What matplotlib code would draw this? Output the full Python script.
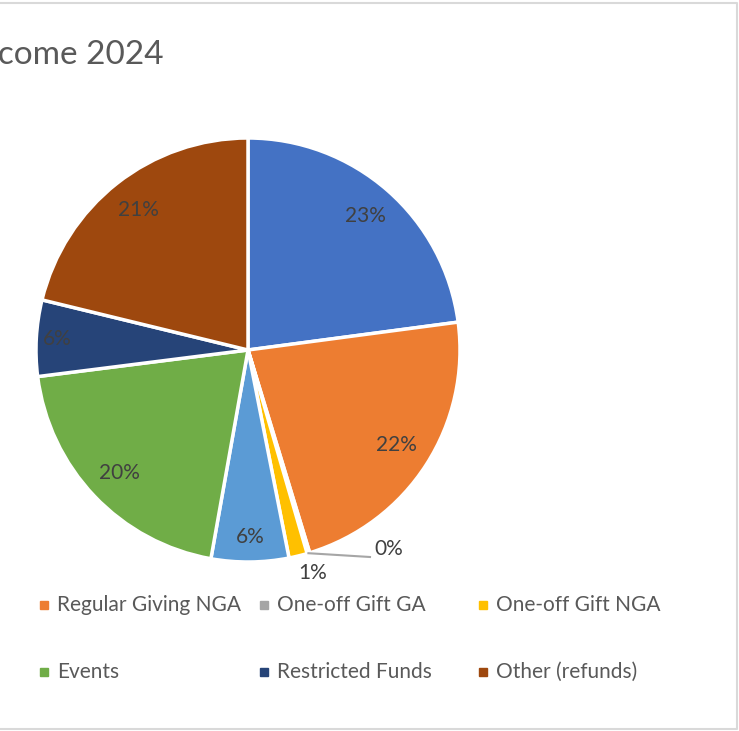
import numpy as np
import matplotlib.pyplot as plt

# income split (percent of total)
CATEGORIES = [
    "Regular Giving GA",
    "Regular Giving NGA",
    "One-off Gift GA",
    "One-off Gift NGA",
    "Gift Aid",
    "Events",
    "Restricted Funds",
    "Other (refunds)",
]
SHARES = [22.9, 22.4, 0.2, 1.4, 5.9, 20.2, 5.8, 21.2]
COLORS = ["#4472C4", "#ED7D31", "#A5A5A5", "#FFC000",
          "#5B9BD5", "#70AD47", "#264478", "#9E480E"]
TITLE = "Income 2024"

W, H = 739, 731
CX, CY, R = 248, H - 350, 212

plt.rcParams['font.family'] = ['Lato', 'DejaVu Sans']

fig = plt.figure(figsize=(W / 100, H / 100), dpi=100)
ax = fig.add_axes([0, 0, 1, 1])

wedges, _ = ax.pie(SHARES, colors=COLORS, startangle=90, counterclock=False,
                   center=(CX, CY), radius=R, normalize=True,
                   wedgeprops=dict(edgecolor='white', linewidth=2.5))
ax.set_xlim(0, W)
ax.set_ylim(0, H)
ax.axis('off')

# data labels
dist = [0.84, 0.83, None, None, 0.88, 0.84, 0.9, 0.84]
cum = np.cumsum([0] + SHARES[:-1])
for i, (s, c) in enumerate(zip(SHARES, cum)):
    mid = np.deg2rad(90 - (c + s / 2) * 3.6)
    txt = f"{round(s):.0f}%"
    if dist[i] is not None:
        ax.text(CX + dist[i] * R * np.cos(mid), CY + dist[i] * R * np.sin(mid), txt,
                ha='center', va='center', fontsize=15, color='#404040')
    elif i == 2:
        x0, y0 = CX + R * np.cos(mid), CY + R * np.sin(mid)
        ax.plot([x0, 370], [y0, H - 557], color='#A6A6A6', lw=1.5)
        ax.text(374, H - 549, txt, ha='left', va='center', fontsize=15, color='#404040')
    else:
        ax.text(313, H - 573, txt, ha='center', va='center', fontsize=15, color='#404040')

# title (the chart is cropped on the left, as in the source)
fig.text(164 / W, 1 - 55 / H, TITLE, ha='right', va='center', fontsize=24, color='#595959')

# legend: 4 columns, 2 rows, first column cut off
col_x = [-200, 44, 264, 483]
row_y = [605, 672]
for i, (name, col) in enumerate(zip(CATEGORIES, COLORS)):
    r, cidx = divmod(i, 4)
    mx, my = col_x[cidx], H - row_y[r]
    ax.add_patch(plt.Rectangle((mx - 4, my - 4), 8, 8, color=col, clip_on=False))
    ax.text(mx + 13, my, name, ha='left', va='center', fontsize=15, color='#595959')

# chart area border
ax.plot([0, 737, 737, 0], [H - 3, H - 3, H - 729, H - 729], color='#D9D9D9', lw=1.5)

fig.savefig('out.png', dpi=100)
